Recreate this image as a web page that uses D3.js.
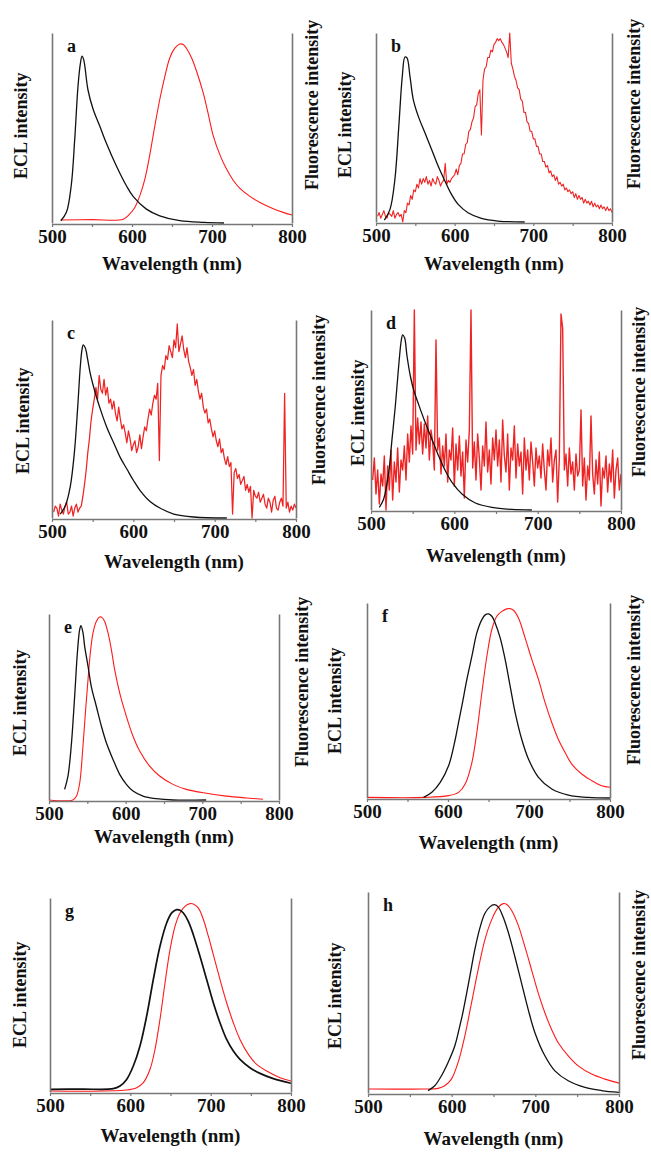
<!DOCTYPE html>
<html>
<head>
<meta charset="utf-8">
<script src="https://cdn.jsdelivr.net/npm/d3@7"></script>
<style>
  body { margin: 0; background: #fff; }
  text { font-family: "Liberation Serif", "Times New Roman", serif; font-weight: bold; fill: #111; }
</style>
</head>
<body>
<div id="chart"></div>
<script>
// axis ticks
var xTicks = [500, 550, 600, 650, 700, 750, 800];
var xLabels = [500, 600, 700, 800];
var letters = ["a", "b", "c", "d", "e", "f", "g", "h"];

// wavelength grid for the noisy spectra (2 nm steps)
var noisyNm = d3.range(502, 801, 2);

// ECL spectra (black), [nm, relative intensity]
var eclA = [[511,0.012],[518,0.056],[524,0.196],[528.4,0.44],[532.5,0.72],[535.5,0.84],[537.5,0.878],[539.6,0.86],[545,0.70],[551.3,0.60],[559.7,0.51],[568,0.42],[580.5,0.30],[593,0.196],[601.4,0.14],[618,0.073],[634.7,0.038],[659.8,0.012],[690,0.003],[715,0]];
var eclB = [[510.6,0.01],[517.8,0.067],[524,0.225],[529,0.507],[533.4,0.77],[536.8,0.873],[539.4,0.868],[543.2,0.77],[547.4,0.648],[553.7,0.56],[562.2,0.472],[570.7,0.384],[579,0.296],[587.6,0.217],[596,0.146],[604.5,0.093],[617,0.049],[634,0.019],[655,0.005],[689,0]];
var eclC = [[510.2,0.02],[516.4,0.062],[522.5,0.16],[527.5,0.33],[531.6,0.56],[534.8,0.765],[536.9,0.85],[538.5,0.874],[541,0.858],[543.9,0.80],[547,0.73],[553.3,0.63],[559.4,0.55],[567.6,0.456],[575.8,0.38],[584,0.305],[592.2,0.246],[600.4,0.188],[608.6,0.137],[620.9,0.082],[633.2,0.049],[649.6,0.02],[674.2,0.005],[715,0]];
var eclD = [[510,0.013],[515.2,0.055],[521.2,0.187],[525.2,0.353],[529.2,0.52],[533.2,0.72],[536.4,0.85],[538,0.876],[540.4,0.86],[543.2,0.77],[547.2,0.67],[551.2,0.60],[557.2,0.527],[565.2,0.436],[573.2,0.353],[581.2,0.27],[589.2,0.196],[597.2,0.138],[609.2,0.08],[625.2,0.035],[645.2,0.013],[669,0.003],[693,0]];
var eclE = [[520.4,0.057],[524.8,0.13],[529,0.29],[533.5,0.56],[537,0.79],[540,0.916],[541.7,0.937],[544.3,0.9],[546.5,0.826],[550.9,0.72],[555.2,0.61],[561.7,0.504],[568.3,0.397],[574.8,0.308],[583.5,0.218],[592.2,0.138],[600.9,0.084],[609.6,0.048],[622.6,0.021],[640,0.007],[661.7,0],[705,0]];
var eclF = [[569.9,0.003],[580.1,0.029],[590.4,0.08],[600.7,0.165],[608.9,0.30],[613,0.387],[617.1,0.472],[623.3,0.608],[629.5,0.727],[635.6,0.847],[641.8,0.915],[645.9,0.939],[650,0.944],[654.1,0.932],[658.2,0.898],[664.4,0.821],[670.6,0.71],[676.7,0.574],[682.9,0.438],[691.1,0.30],[699.3,0.20],[711.7,0.106],[728.1,0.046],[748.7,0.015],[773.3,0.003],[800,0]];
var eclG = [[500,0.014],[540,0.015],[578.8,0.017],[587.1,0.031],[595.4,0.065],[603.7,0.134],[612,0.237],[620.3,0.391],[628.6,0.58],[636.9,0.751],[645.2,0.871],[651.5,0.923],[657.7,0.94],[661.8,0.937],[666,0.923],[672.2,0.88],[678.4,0.811],[686.7,0.70],[695,0.58],[703.3,0.46],[711.6,0.357],[719.9,0.271],[728.2,0.211],[736.5,0.168],[748.9,0.125],[761.4,0.096],[778,0.069],[800,0.045]];
var eclH = [[571.8,0.012],[579.8,0.036],[587.8,0.086],[595.7,0.152],[603.7,0.234],[609.7,0.333],[612.5,0.382],[615.7,0.448],[621.7,0.58],[627.6,0.712],[633.6,0.819],[639.6,0.893],[645.6,0.926],[650.8,0.937],[655.6,0.926],[661.5,0.876],[667.5,0.802],[675.5,0.679],[683.5,0.547],[691.5,0.415],[699.5,0.30],[711.4,0.185],[723.4,0.11],[739.3,0.061],[759.3,0.028],[779.2,0.012],[800,0.003]];

// fluorescence spectra (red), [nm, relative intensity]
var flA = [[511,0.016],[550,0.018],[589,0.02],[597,0.047],[603.5,0.082],[609.7,0.143],[616,0.23],[622,0.353],[628.5,0.51],[634.7,0.65],[641,0.77],[647.3,0.87],[653.5,0.92],[659.8,0.942],[664,0.939],[668,0.92],[674.4,0.87],[680.6,0.80],[689,0.685],[695,0.58],[701.5,0.46],[709.8,0.36],[718,0.285],[726.5,0.225],[734.9,0.182],[747.4,0.14],[760,0.108],[776.6,0.075],[789,0.056],[800,0.042]];
var flE = [[500,0],[531,0],[535.7,0.02],[540,0.09],[544.3,0.29],[547.8,0.487],[550.9,0.648],[553.9,0.79],[557.4,0.898],[561.7,0.96],[566,0.984],[569,0.982],[572.6,0.96],[577,0.898],[581.3,0.81],[585.7,0.70],[592.2,0.576],[600.9,0.45],[609.6,0.343],[618.3,0.263],[631.3,0.182],[644.3,0.129],[661.7,0.084],[679,0.057],[705.2,0.036],[731.3,0.021],[757.4,0.011],[779,0.004]];
var flF = [[500,0.003],[572,0.003],[600.7,0.012],[613,0.029],[621.2,0.072],[629.5,0.182],[635.6,0.336],[641.8,0.54],[648,0.727],[654.1,0.864],[660.3,0.932],[666.5,0.957],[672.6,0.97],[676.7,0.971],[680.8,0.963],[687,0.923],[695.2,0.821],[703.5,0.71],[711.7,0.608],[719.9,0.489],[728.1,0.387],[736.3,0.30],[744.6,0.233],[752.8,0.174],[765.1,0.123],[777.4,0.089],[789.8,0.063],[800,0.055]];
var flG = [[500,0.005],[595.4,0.01],[607.9,0.022],[616.2,0.048],[624.5,0.117],[630.7,0.22],[636.9,0.374],[643.2,0.563],[649.4,0.734],[655.6,0.854],[661.8,0.923],[668,0.957],[674.3,0.971],[678.4,0.969],[684.6,0.949],[690.9,0.889],[697.1,0.803],[703.3,0.708],[711.6,0.58],[719.9,0.46],[728.2,0.357],[736.5,0.271],[746.9,0.194],[757.3,0.142],[769.7,0.108],[786.3,0.074],[800,0.057]];
var flH = [[500,0.02],[567.8,0.02],[583.8,0.023],[591.7,0.036],[599.7,0.069],[607.7,0.152],[615.7,0.283],[623.7,0.448],[631.6,0.613],[639.6,0.761],[647.6,0.86],[655.6,0.923],[661.5,0.942],[665.5,0.939],[671.5,0.909],[679.5,0.835],[687.5,0.728],[695.5,0.613],[703.4,0.498],[711.4,0.399],[719.4,0.316],[727.4,0.25],[739.3,0.185],[751.3,0.135],[767.3,0.094],[783.2,0.069],[800,0.049]];

// noisy fluorescence spectra, one value per noisyNm entry
var flB = [0.03,0.05,0.02,0.04,0.06,0.03,0.02,0.05,0.04,0.03,0.06,0.02,0.04,0.05,0.03,0.04,0.0,
  0.06,0.05,0.1,0.09,0.14,0.12,0.17,0.16,0.2,0.18,0.23,
  0.2,0.23,0.21,0.24,0.2,0.22,0.19,0.23,0.21,0.2,0.24,0.22,0.19,0.21,0.22,0.31,0.2,0.22,0.21,0.23,0.24,
  0.25,0.28,0.25,0.3,0.31,0.36,0.36,0.41,0.42,0.48,0.49,0.53,0.55,0.61,0.62,0.68,0.7,0.46,0.75,0.81,0.82,0.87,0.87,0.91,0.9,0.94,
  0.95,0.97,0.96,0.97,0.95,0.94,0.92,0.9,0.87,1.0,
  0.84,0.81,0.77,0.75,0.71,0.7,0.65,0.64,0.58,0.58,0.53,0.52,0.48,0.48,0.44,
  0.44,0.4,0.4,0.36,0.36,0.32,0.32,0.29,0.3,0.26,0.27,0.24,0.25,0.22,0.24,0.2,0.21,0.19,0.2,0.17,
  0.18,0.16,0.17,0.15,0.16,0.13,0.15,0.12,0.14,0.12,0.13,0.1,0.12,0.1,0.11,0.09,0.11,0.08,0.1,0.08,0.09,0.07,0.09,0.07,0.08,0.06,0.08,0.06,0.07,0.05];
var flC = [0.03,0.06,0.05,0.01,0.07,0.04,0.02,0.06,0.08,0.02,0.03,0.06,0.01,0.05,0.07,0.03,0.05,
  0.06,0.11,0.17,0.24,0.33,0.4,0.49,0.55,0.6,
  0.66,0.6,0.72,0.65,0.63,0.7,0.62,
  0.66,0.58,0.6,0.55,0.59,0.53,0.49,0.56,0.5,0.45,0.47,0.43,0.38,0.44,0.4,0.34,0.37,
  0.39,0.33,0.36,0.42,0.35,0.41,
  0.46,0.44,0.5,0.55,0.52,0.58,0.62,0.6,0.68,0.29,0.72,0.77,
  0.75,0.82,0.8,0.87,0.84,0.81,0.9,0.86,0.98,0.84,0.88,0.92,0.85,0.81,0.86,
  0.79,0.76,0.72,0.75,0.67,0.7,0.64,0.6,0.63,0.56,0.53,0.55,
  0.48,0.5,0.45,0.41,0.44,0.39,0.36,0.4,0.33,0.35,0.3,0.27,0.31,0.26,0.28,
  0.02,0.23,0.25,0.2,0.22,0.17,0.19,0.21,0.14,0.17,0.13,0.16,0.0,0.14,0.11,0.1,0.13,0.08,0.1,0.12,
  0.07,0.05,0.1,0.08,0.03,0.09,0.11,0.05,0.04,0.08,0.1,0.06,0.63,0.05,0.08,0.03,0.06,0.04,0.07,0.05];
var flD = [0.15,0.26,0.08,0.2,0.03,0.18,0.12,0.27,0.0,0.22,0.1,0.3,0.05,0.24,0.14,0.31,0.09,0.25,
  0.2,0.32,0.15,0.38,0.24,0.42,0.28,1.0,0.3,0.46,0.33,0.44,
  0.28,0.43,0.31,0.47,0.25,0.4,0.34,0.2,0.85,0.3,
  0.36,0.18,0.32,0.22,0.38,0.14,0.3,0.25,0.41,0.12,0.33,0.2,0.37,0.17,0.29,0.06,0.35,0.24,0.4,1.0,0.21,0.34,0.15,0.38,0.26,0.1,0.32,0.22,0.44,0.19,0.3,0.13,0.36,0.25,0.4,
  0.22,0.35,0.14,0.45,0.27,0.19,0.38,0.1,0.31,0.25,0.42,0.16,0.33,0.22,0.29,0.08,0.36,0.2,0.3,0.15,0.34,0.24,0.12,0.31,0.21,
  0.27,0.16,0.33,0.2,0.1,0.3,0.22,0.36,0.14,0.25,0.3,0.04,0.26,0.98,0.91,0.2,0.28,0.12,0.31,0.18,
  0.24,0.1,0.28,0.17,0.2,0.5,0.12,0.26,0.05,0.22,0.15,0.47,0.18,0.08,0.25,0.13,0.29,0.02,0.21,0.16,0.27,0.09,0.23,0.14,0.3,0.06,0.2,0.26,0.1,0.18];

function zipNoisy(vals) {
    return vals.map(function (v, i) { return [noisyNm[i], v]; });
}

var panels = [
    {ecl: eclA, fl: flA, noise: 0},
    {ecl: eclB, fl: zipNoisy(flB), noise: 1.1},
    {ecl: eclC, fl: zipNoisy(flC), noise: 1.25},
    {ecl: eclD, fl: zipNoisy(flD), noise: 1.4},
    {ecl: eclE, fl: flE, noise: 0},
    {ecl: eclF, fl: flF, noise: 0},
    {ecl: eclG, fl: flG, noise: 0},
    {ecl: eclH, fl: flH, noise: 0}
];

// layout: plot box [left, top, right, bottom], label offsets
var layout = [
    {box: [52, 33, 292, 224], title: 46, eclX: 27, flX: 318, fl: true},
    {box: [376, 33, 612, 223], title: 47, eclX: 351, flX: 640, fl: true},
    {box: [52, 320, 296, 519], title: 49, eclX: 29, flX: 325, fl: true},
    {box: [371, 310, 621, 511], title: 51, eclX: 364, flX: 645, fl: true},
    {box: [49, 614, 279, 801], title: 42, eclX: 26, flX: 308, fl: true},
    {box: [367, 603, 610, 799], title: 50, eclX: 341, flX: 640, fl: true},
    {box: [50, 898, 291, 1093], title: 49, eclX: 26, flX: 0, fl: false},
    {box: [368, 892, 619, 1094], title: 51, eclX: 341, flX: 645, fl: true}
];

var width = 651;
var height = 1152;

var svg = d3.select("#chart").append("svg")
    .attr("width", width).attr("height", height)
    .style("background", "#fff");

panels.forEach(function (p, i) {
    var L = layout[i];
    var left = L.box[0], top = L.box[1], right = L.box[2], bottom = L.box[3];

    var x = d3.scaleLinear().domain([500, 800]).range([left, right]);
    var y = d3.scaleLinear().domain([0, 1]).range([bottom - 1, top]);

    var g = svg.append("g");

    var line = d3.line()
        .x(function (d) { return x(d[0]); })
        .y(function (d) { return y(d[1]); });

    // red fluorescence
    g.append("path")
        .datum(p.fl)
        .attr("fill", "none")
        .attr("stroke", p.noise ? "#ee2424" : "#ff1a1a")
        .attr("stroke-width", p.noise ? p.noise : 1.1)
        .attr("stroke-linejoin", "round")
        .attr("d", line.curve(p.noise ? d3.curveLinear : d3.curveCatmullRom.alpha(0.5)));

    // black ECL
    g.append("path")
        .datum(p.ecl)
        .attr("fill", "none")
        .attr("stroke", "#111")
        .attr("stroke-width", i === 6 ? 1.7 : 1.3)
        .attr("d", line.curve(d3.curveCatmullRom.alpha(0.5)));

    // axes
    var xAxis = d3.axisBottom(x)
        .tickValues(xTicks)
        .tickSize(3)
        .tickSizeOuter(0)
        .tickFormat(function (d) { return xLabels.indexOf(d) >= 0 ? d : ""; });

    var ax = g.append("g")
        .attr("transform", "translate(0," + bottom + ")")
        .call(xAxis);
    ax.select(".domain").attr("stroke", "#777").attr("stroke-width", 1.6);
    ax.selectAll(".tick line").attr("stroke", "#777").attr("stroke-width", 1.2);
    ax.selectAll(".tick text")
        .attr("fill", "#111")
        .attr("font-size", "19px")
        .attr("font-family", "'Liberation Serif', 'Times New Roman', serif")
        .attr("font-weight", "bold");

    g.append("g")
        .attr("transform", "translate(" + left + ",0)")
        .call(d3.axisLeft(y).tickValues([]).tickSizeOuter(0))
        .select(".domain").attr("stroke", "#777").attr("stroke-width", 1.6);

    g.append("g")
        .attr("transform", "translate(" + right + ",0)")
        .call(d3.axisRight(y).tickValues([]).tickSizeOuter(0))
        .select(".domain").attr("stroke", "#777").attr("stroke-width", 1.6);

    // texts
    g.append("text")
        .attr("x", (left + right) / 2)
        .attr("y", bottom + L.title)
        .attr("text-anchor", "middle")
        .attr("font-size", "19px")
        .text("Wavelength (nm)");

    g.append("text")
        .attr("transform", "translate(" + L.eclX + "," + (bottom - 45) + ") rotate(-90)")
        .attr("font-size", "18px")
        .text("ECL intensity");

    if (L.fl) {
        g.append("text")
            .attr("transform", "translate(" + L.flX + "," + (bottom - 34) + ") rotate(-90)")
            .attr("font-size", "18px")
            .text("Fluorescence intensity");
    }

    g.append("text")
        .attr("x", left + 15)
        .attr("y", top + 19)
        .attr("font-size", "18px")
        .text(letters[i]);
});
</script>
</body>
</html>
